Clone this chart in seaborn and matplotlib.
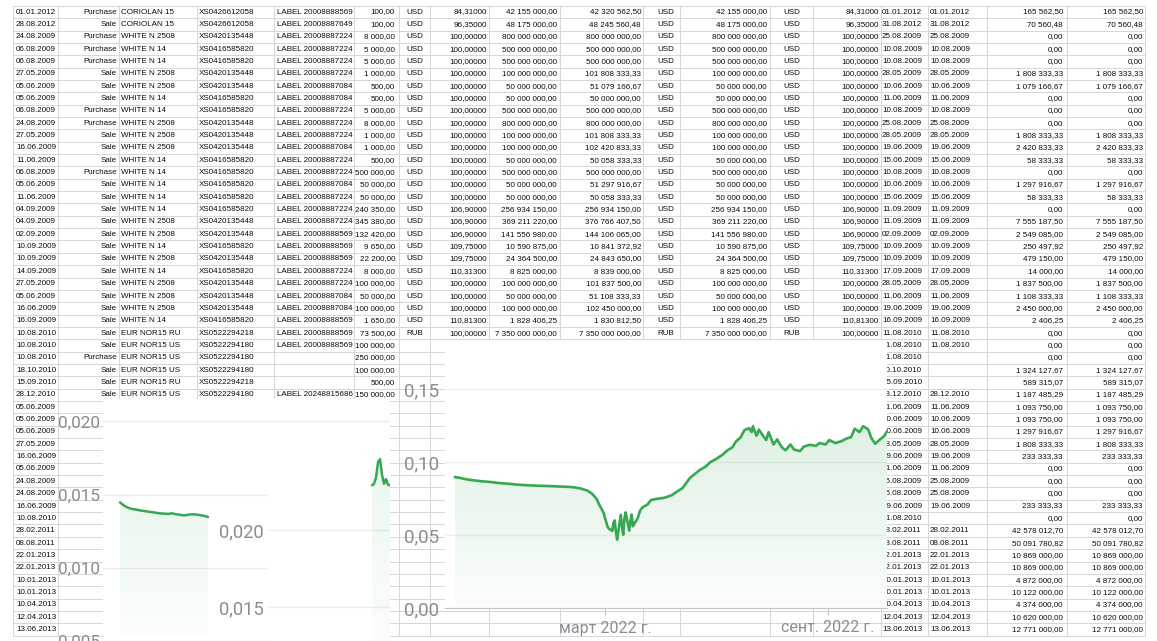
import numpy as np
import pandas as pd
import seaborn as sns
import matplotlib
matplotlib.use("Agg")
import matplotlib.pyplot as plt
from matplotlib.colors import to_rgb

sns.set_style("white")
plt.rcParams["font.family"] = ["Roboto", "DejaVu Sans"]

W, H = 1157, 641

# ---------- spreadsheet behind the charts ----------
# date, side, name, isin, label, amount, currency, price, nominal, value, settle date, accrued
trades = [
    ("01.01.2012", "Purchase", "CORIOLAN 15", "XS0426612058", "LABEL 20008888569", "100,00", "USD", "84,31000", "42 155 000,00", "42 320 562,50", "01.01.2012", "165 562,50"),
    ("28.08.2012", "Sale", "CORIOLAN 15", "XS0426612058", "LABEL 20008887649", "100,00", "USD", "96,35000", "48 175 000,00", "48 245 560,48", "31.08.2012", "70 560,48"),
    ("24.08.2009", "Purchase", "WHITE N 2508", "XS0420135448", "LABEL 20008887224", "8 000,00", "USD", "100,00000", "800 000 000,00", "800 000 000,00", "25.08.2009", "0,00"),
    ("06.08.2009", "Purchase", "WHITE N 14", "XS0416585820", "LABEL 20008887224", "5 000,00", "USD", "100,00000", "500 000 000,00", "500 000 000,00", "10.08.2009", "0,00"),
    ("06.08.2009", "Purchase", "WHITE N 14", "XS0416585820", "LABEL 20008887224", "5 000,00", "USD", "100,00000", "500 000 000,00", "500 000 000,00", "10.08.2009", "0,00"),
    ("27.05.2009", "Sale", "WHITE N 2508", "XS0420135448", "LABEL 20008887224", "1 000,00", "USD", "100,00000", "100 000 000,00", "101 808 333,33", "28.05.2009", "1 808 333,33"),
    ("05.06.2009", "Sale", "WHITE N 2508", "XS0420135448", "LABEL 20008887084", "500,00", "USD", "100,00000", "50 000 000,00", "51 079 166,67", "10.06.2009", "1 079 166,67"),
    ("05.06.2009", "Sale", "WHITE N 14", "XS0416585820", "LABEL 20008887084", "500,00", "USD", "100,00000", "50 000 000,00", "50 000 000,00", "11.06.2009", "0,00"),
    ("06.08.2009", "Purchase", "WHITE N 14", "XS0416585820", "LABEL 20008887224", "5 000,00", "USD", "100,00000", "500 000 000,00", "500 000 000,00", "10.08.2009", "0,00"),
    ("24.08.2009", "Purchase", "WHITE N 2508", "XS0420135448", "LABEL 20008887224", "8 000,00", "USD", "100,00000", "800 000 000,00", "800 000 000,00", "25.08.2009", "0,00"),
    ("27.05.2009", "Sale", "WHITE N 2508", "XS0420135448", "LABEL 20008887224", "1 000,00", "USD", "100,00000", "100 000 000,00", "101 808 333,33", "28.05.2009", "1 808 333,33"),
    ("16.06.2009", "Sale", "WHITE N 2508", "XS0420135448", "LABEL 20008887084", "1 000,00", "USD", "100,00000", "100 000 000,00", "102 420 833,33", "19.06.2009", "2 420 833,33"),
    ("11.06.2009", "Sale", "WHITE N 14", "XS0416585820", "LABEL 20008887224", "500,00", "USD", "100,00000", "50 000 000,00", "50 058 333,33", "15.06.2009", "58 333,33"),
    ("06.08.2009", "Purchase", "WHITE N 14", "XS0416585820", "LABEL 20008887224", "500 000,00", "USD", "100,00000", "500 000 000,00", "500 000 000,00", "10.08.2009", "0,00"),
    ("05.06.2009", "Sale", "WHITE N 14", "XS0416585820", "LABEL 20008887084", "50 000,00", "USD", "100,00000", "50 000 000,00", "51 297 916,67", "10.06.2009", "1 297 916,67"),
    ("11.06.2009", "Sale", "WHITE N 14", "XS0416585820", "LABEL 20008887224", "50 000,00", "USD", "100,00000", "50 000 000,00", "50 058 333,33", "15.06.2009", "58 333,33"),
    ("04.09.2009", "Sale", "WHITE N 14", "XS0416585820", "LABEL 20008887224", "240 350,00", "USD", "106,90000", "256 934 150,00", "256 934 150,00", "11.09.2009", "0,00"),
    ("04.09.2009", "Sale", "WHITE N 2508", "XS0420135448", "LABEL 20008887224", "345 380,00", "USD", "106,90000", "369 211 220,00", "376 766 407,50", "11.09.2009", "7 555 187,50"),
    ("02.09.2009", "Sale", "WHITE N 2508", "XS0420135448", "LABEL 20008888569", "132 420,00", "USD", "106,90000", "141 556 980,00", "144 106 065,00", "02.09.2009", "2 549 085,00"),
    ("10.09.2009", "Sale", "WHITE N 14", "XS0416585820", "LABEL 20008888569", "9 650,00", "USD", "109,75000", "10 590 875,00", "10 841 372,92", "10.09.2009", "250 497,92"),
    ("10.09.2009", "Sale", "WHITE N 2508", "XS0420135448", "LABEL 20008888569", "22 200,00", "USD", "109,75000", "24 364 500,00", "24 843 650,00", "10.09.2009", "479 150,00"),
    ("14.09.2009", "Sale", "WHITE N 14", "XS0416585820", "LABEL 20008887224", "8 000,00", "USD", "110,31300", "8 825 000,00", "8 839 000,00", "17.09.2009", "14 000,00"),
    ("27.05.2009", "Sale", "WHITE N 2508", "XS0420135448", "LABEL 20008887224", "100 000,00", "USD", "100,00000", "100 000 000,00", "101 837 500,00", "28.05.2009", "1 837 500,00"),
    ("05.06.2009", "Sale", "WHITE N 2508", "XS0420135448", "LABEL 20008887084", "50 000,00", "USD", "100,00000", "50 000 000,00", "51 108 333,33", "11.06.2009", "1 108 333,33"),
    ("16.06.2009", "Sale", "WHITE N 2508", "XS0420135448", "LABEL 20008887084", "100 000,00", "USD", "100,00000", "100 000 000,00", "102 450 000,00", "19.06.2009", "2 450 000,00"),
    ("16.09.2009", "Sale", "WHITE N 14", "XS0416585820", "LABEL 20008888569", "1 650,00", "USD", "110,81300", "1 828 406,25", "1 830 812,50", "16.09.2009", "2 406,25"),
    ("10.08.2010", "Sale", "EUR NOR15 RU", "XS0522294218", "LABEL 20008888569", "73 500,00", "RUB", "100,00000", "7 350 000 000,00", "7 350 000 000,00", "11.08.2010", "0,00"),
]

# rows partly hidden by the charts: left part
tail_left = [
    ("10.08.2010", "Sale", "EUR NOR15 US", "XS0522294180", "LABEL 20008888569", "100 000,00"),
    ("10.08.2010", "Purchase", "EUR NOR15 US", "XS0522294180", "", "250 000,00"),
    ("18.10.2010", "Sale", "EUR NOR15 US", "XS0522294180", "", "100 000,00"),
    ("15.09.2010", "Sale", "EUR NOR15 RU", "XS0522294218", "", "500,00"),
    ("28.12.2010", "Sale", "EUR NOR15 US", "XS0522294180", "LABEL 20248815686", "150 000,00"),
]
tail_dates = ["05.06.2009", "05.06.2009", "05.06.2009", "27.05.2009", "16.06.2009", "05.06.2009",
              "24.08.2009", "24.08.2009", "16.06.2009", "10.08.2010", "28.02.2011", "08.08.2011",
              "22.01.2013", "22.01.2013", "10.01.2013", "10.01.2013", "10.04.2013", "12.04.2013",
              "13.06.2013"]
# right part: settle date, payment date, accrued
tail_right = [
    ("11.08.2010", "11.08.2010", "0,00"), ("11.08.2010", "", "0,00"),
    ("20.10.2010", "", "1 324 127,67"), ("15.09.2010", "", "589 315,07"),
    ("28.12.2010", "28.12.2010", "1 187 485,29"), ("11.06.2009", "11.06.2009", "1 093 750,00"),
    ("10.06.2009", "10.06.2009", "1 093 750,00"), ("10.06.2009", "10.06.2009", "1 297 916,67"),
    ("28.05.2009", "28.05.2009", "1 808 333,33"), ("19.06.2009", "19.06.2009", "233 333,33"),
    ("11.06.2009", "11.06.2009", "0,00"), ("25.08.2009", "25.08.2009", "0,00"),
    ("25.08.2009", "25.08.2009", "0,00"), ("19.06.2009", "19.06.2009", "233 333,33"),
    ("11.08.2010", "", "0,00"), ("28.02.2011", "28.02.2011", "42 578 012,70"),
    ("08.08.2011", "08.08.2011", "50 091 780,82"), ("22.01.2013", "22.01.2013", "10 869 000,00"),
    ("22.01.2013", "22.01.2013", "10 869 000,00"), ("10.01.2013", "10.01.2013", "4 872 000,00"),
    ("10.01.2013", "10.01.2013", "10 122 000,00"), ("10.04.2013", "10.04.2013", "4 374 000,00"),
    ("12.04.2013", "12.04.2013", "10 620 000,00"), ("13.06.2013", "13.06.2013", "12 771 000,00"),
]

# ---------- chart data ----------
small_a = [0.01447, 0.01425, 0.01410, 0.01402, 0.01398, 0.01392, 0.01388, 0.01384, 0.01380,
           0.01376, 0.01372, 0.01370, 0.01368, 0.01372, 0.01366, 0.01362, 0.01358, 0.01362,
           0.01366, 0.01364, 0.01360, 0.01355, 0.01347]
small_b = [0.02290, 0.02300, 0.02340, 0.02440, 0.02460, 0.02360, 0.02300, 0.02330, 0.02295, 0.02290]

dates = ["2021-10-28", "2021-11-02", "2021-11-05", "2021-11-10", "2021-11-15", "2021-11-19",
         "2021-11-24", "2021-11-29", "2021-12-03", "2021-12-08", "2021-12-13", "2021-12-17",
         "2021-12-22", "2021-12-28", "2022-01-04", "2022-01-10", "2022-01-14", "2022-01-20",
         "2022-01-26", "2022-01-31", "2022-02-04", "2022-02-09", "2022-02-14", "2022-02-18",
         "2022-02-22", "2022-02-24", "2022-02-28", "2022-03-01", "2022-03-02", "2022-03-03",
         "2022-03-04", "2022-03-07", "2022-03-08", "2022-03-09", "2022-03-10", "2022-03-11",
         "2022-03-14", "2022-03-15", "2022-03-16", "2022-03-17", "2022-03-18", "2022-03-21",
         "2022-03-22", "2022-03-23", "2022-03-24", "2022-03-25", "2022-03-28", "2022-03-30",
         "2022-04-01", "2022-04-05", "2022-04-08", "2022-04-13", "2022-04-19", "2022-04-25",
         "2022-04-29", "2022-05-04", "2022-05-10", "2022-05-13", "2022-05-18", "2022-05-23",
         "2022-05-27", "2022-06-01", "2022-06-06", "2022-06-10", "2022-06-14", "2022-06-17",
         "2022-06-21", "2022-06-24", "2022-06-28", "2022-06-30", "2022-07-01", "2022-07-04",
         "2022-07-06", "2022-07-08", "2022-07-12", "2022-07-14", "2022-07-18", "2022-07-21",
         "2022-07-25", "2022-07-28", "2022-08-01", "2022-08-04", "2022-08-09", "2022-08-12",
         "2022-08-17", "2022-08-22", "2022-08-25", "2022-08-30", "2022-09-02", "2022-09-07",
         "2022-09-12", "2022-09-16", "2022-09-20", "2022-09-23", "2022-09-27", "2022-09-30",
         "2022-10-04", "2022-10-07", "2022-10-10", "2022-10-13", "2022-10-17", "2022-10-20"]
yields = [0.0897, 0.0890, 0.0884, 0.0877, 0.0872, 0.0868, 0.0865, 0.0861, 0.0856, 0.0853,
          0.0850, 0.0846, 0.0843, 0.0840, 0.0838, 0.0836, 0.0835, 0.0833, 0.0831, 0.0829,
          0.0826, 0.0818, 0.0806, 0.0785, 0.0748, 0.0712, 0.0650, 0.0615, 0.0590, 0.0560,
          0.0545, 0.0528, 0.0585, 0.0600, 0.0520, 0.0468, 0.0638, 0.0560, 0.0502, 0.0610,
          0.0655, 0.0530, 0.0600, 0.0640, 0.0560, 0.0575, 0.0615, 0.0668, 0.0690, 0.0708,
          0.0740, 0.0748, 0.0755, 0.0772, 0.0795, 0.0822, 0.0890, 0.0910, 0.0945, 0.0968,
          0.1000, 0.1022, 0.1050, 0.1080, 0.1100, 0.1140, 0.1170, 0.1218, 0.1232, 0.1205,
          0.1245, 0.1180, 0.1222, 0.1196, 0.1150, 0.1205, 0.1120, 0.1155, 0.1100, 0.1080,
          0.1120, 0.1085, 0.1075, 0.1105, 0.1118, 0.1110, 0.1130, 0.1120, 0.1150, 0.1130,
          0.1142, 0.1160, 0.1170, 0.1228, 0.1205, 0.1245, 0.1225, 0.1160, 0.1125, 0.1148,
          0.1175, 0.1212]

tick_vals_a = [0.020, 0.015, 0.010, 0.005]
tick_vals_b = [0.020, 0.015]
tick_vals_c = [0.00, 0.05, 0.10, 0.15]
month_ticks = ["2022-03-01", "2022-09-01"]
month_labels = ["март 2022 г.", "сент. 2022 г."]

GREEN = "#36a852"
GREY = "#888d93"


def box(x0, y0, x1, y1):
    return [x0 / W, 1 - y1 / H, (x1 - x0) / W, (y1 - y0) / H]


def gradient_fill(ax, x, y, base, top_alpha, bottom_alpha):
    poly = ax.fill_between(x, y, base, facecolor="none", edgecolor="none")
    xn = np.asarray(poly.get_paths()[0].vertices[:, 0])
    rgba = np.zeros((100, 1, 4))
    rgba[:, :, :3] = to_rgb(GREEN)
    rgba[:, 0, 3] = np.linspace(bottom_alpha, top_alpha, 100)
    im = ax.imshow(rgba, extent=[xn.min(), xn.max(), base, max(y)], origin="lower",
                   aspect="auto", zorder=1)
    im.set_clip_path(poly.get_paths()[0], transform=ax.transData)


def clean(ax):
    for s in ax.spines.values():
        s.set_visible(False)
    ax.set_xlabel("")
    ax.set_ylabel("")


fig = plt.figure(figsize=(W / 100, H / 100), dpi=100)

# table
axt = fig.add_axes([0, 0, 1, 1])
axt.set_xlim(0, W)
axt.set_ylim(H, 0)
axt.axis("off")
cols = [(16, "left"), (117, "right"), (121, "left"), (199, "left"), (277, "left"), (395, "right"),
        (406, "left"), (487, "right"), (557, "right"), (641, "right"), (657, "left"), (767, "right"),
        (783, "left"), (879, "right"), (882, "left"), (930, "left"), (1063, "right"), (1143, "right")]
vlines = [13, 58, 118.5, 197, 274, 354, 399, 430, 489, 560, 643, 680, 770, 813, 881, 928, 987, 1067, 1145]
row_y = lambda i: 12 + i * 12.35
n_rows = len(trades) + len(tail_right)
axt.hlines([row_y(i) - 6.2 for i in range(n_rows + 1)], 13, 1145, color="#d6d6d6", lw=0.7)
axt.vlines(vlines, row_y(0) - 6.2, row_y(n_rows) - 6.2, color="#d6d6d6", lw=0.7)
tkw = dict(fontsize=5.8, family="Liberation Sans", color="#0c0c0c", va="center")


def cell(c, i, s):
    if s:
        axt.text(cols[c][0], row_y(i), s, ha=cols[c][1], **tkw)


for i, t in enumerate(trades):
    d, sd, nm, isin, lab, amt, cur, pr, nom, val, st, acc = t
    for c, s in enumerate([d, sd, nm, isin, lab, amt, cur, pr, nom, val, cur, nom, cur, pr,
                           st, st, acc, acc]):
        cell(c, i, s)
k = len(trades)
for j, t in enumerate(tail_left):
    for c, s in enumerate(t):
        cell(c, k + j, s)
for j, d in enumerate(tail_dates):
    cell(0, k + len(tail_left) + j, d)
for j, (s1, s2, acc) in enumerate(tail_right):
    cell(14, k + j, s1)
    cell(15, k + j, s2)
    cell(16, k + j, acc)
    cell(17, k + j, acc)

# small chart A
bga = fig.add_axes(box(51, 399, 390, 641))
bga.axis("off")
axa = fig.add_axes(box(103, 399, 390, 641))
xa = np.arange(len(small_a))
sns.lineplot(x=xa, y=small_a, ax=axa, color=GREEN, lw=1.8, zorder=3)
gradient_fill(axa, xa, np.array(small_a), 0.0054, 0.10, 0.02)
axa.set_xlim(-4.25, 67.5)
axa.set_ylim(0.0054, 0.02153)
clean(axa)
axa.set_xticks([])
axa.set_yticks(tick_vals_a)
axa.set_yticklabels([f"{v:.3f}".replace(".", ",") for v in tick_vals_a])
axa.tick_params(axis="y", length=0, pad=2, labelsize=12.3, labelcolor=GREY)
axa.grid(axis="y", color="#ebebeb", lw=0.9)

# small chart B
bgb = fig.add_axes(box(210, 445, 390, 641))
bgb.axis("off")
axb = fig.add_axes(box(268, 445, 390, 641))
xb = np.arange(len(small_b))
sns.lineplot(x=xb, y=small_b, ax=axb, color=GREEN, lw=1.8, zorder=3)
gradient_fill(axb, xb, np.array(small_b), 0.01279, 0.10, 0.02)
axb.set_xlim(-52, 9)
axb.set_ylim(0.01279, 0.02552)
clean(axb)
axb.set_xticks([])
axb.set_yticks(tick_vals_b)
axb.set_yticklabels([f"{v:.3f}".replace(".", ",") for v in tick_vals_b])
axb.tick_params(axis="y", length=0, pad=3, labelsize=13.2, labelcolor=GREY)
axb.grid(axis="y", color="#ebebeb", lw=0.9)

# main chart C
bgc = fig.add_axes(box(390, 340, 887, 641))
bgc.axis("off")
axc = fig.add_axes(box(445, 340, 887, 608))
df = pd.DataFrame({"date": pd.to_datetime(dates), "yield": yields})
sns.lineplot(data=df, x="date", y="yield", ax=axc, color=GREEN, lw=1.9, zorder=3)
gradient_fill(axc, df["date"].values, df["yield"].values, 0.0, 0.16, 0.02)
mar1 = pd.Timestamp("2022-03-01")
axc.set_xlim(mar1 + pd.Timedelta(days=(445 - 605) / 1.212), mar1 + pd.Timedelta(days=(887 - 605) / 1.212))
axc.set_ylim(0, (608 - 340) / 1460)
clean(axc)
axc.spines["bottom"].set_visible(True)
axc.spines["bottom"].set_color("#c4c4c4")
axc.set_yticks(tick_vals_c)
axc.set_yticklabels([f"{v:.2f}".replace(".", ",") for v in tick_vals_c])
axc.tick_params(axis="y", length=0, pad=4, labelsize=13.5, labelcolor=GREY)
axc.set_xticks(pd.to_datetime(month_ticks))
axc.set_xticklabels(month_labels)
axc.tick_params(axis="x", length=5, width=0.8, color="#c4c4c4", pad=4, labelsize=11.5,
                labelcolor=GREY, bottom=True)
axc.grid(axis="y", color="#efefef", lw=0.9)

fig.savefig("out.png", dpi=100)
